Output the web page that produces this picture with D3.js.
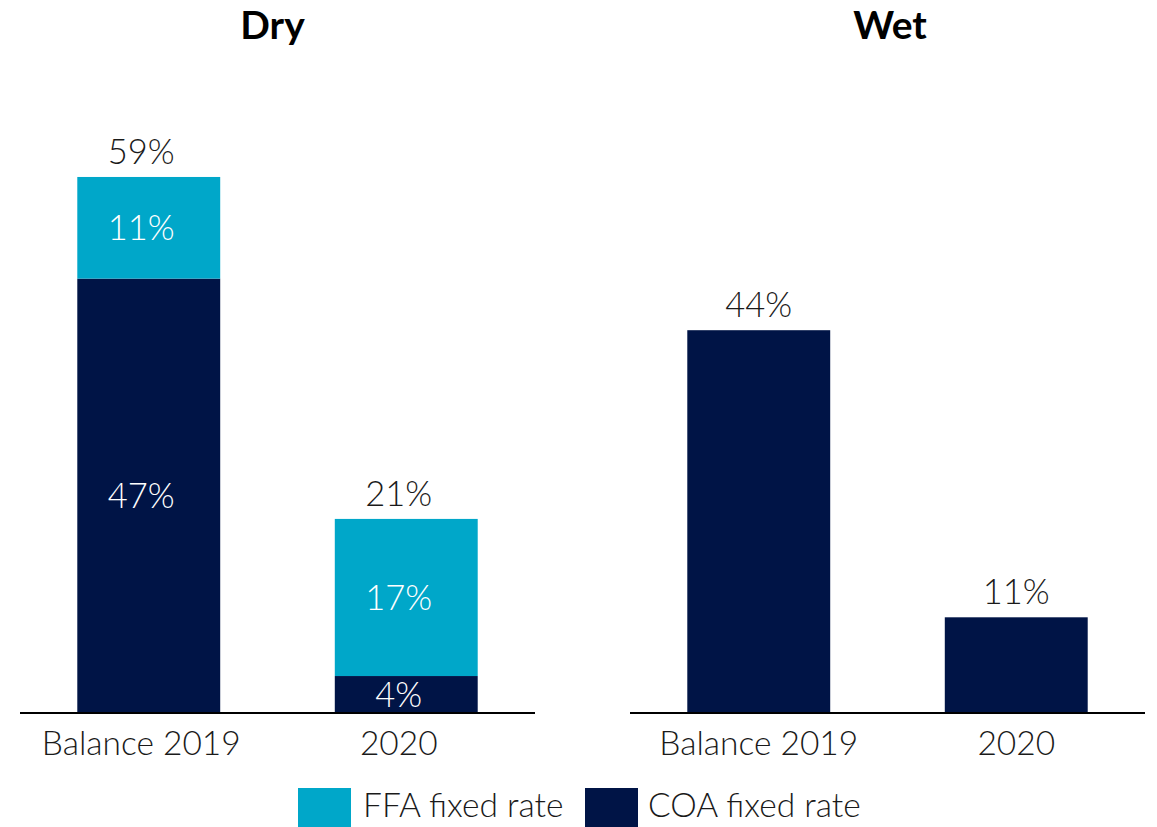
<!DOCTYPE html>
<html>
<head>
<meta charset="utf-8">
<script src="https://cdn.jsdelivr.net/npm/d3@7/dist/d3.min.js"></script>
<style>
  html, body { margin: 0; padding: 0; background: #ffffff; }
  svg { display: block; }
  text { font-family: "Source Sans Pro", "Lato", "Roboto", sans-serif; }
</style>
</head>
<body>
<svg id="chart" width="1157" height="827"></svg>
<script>
// Fixed-rate coverage shares (%) by segment
const categories = ["Balance 2019", "2020"];
const panelTitles = ["Dry", "Wet"];
const seriesNames = ["FFA fixed rate", "COA fixed rate"];

const dryCOA = [47, 4];
const dryFFA = [11, 17];
const dryTotals = [59, 21];

const wetCOA = [44, 11];
const wetFFA = [0, 0];
const wetTotals = [44, 11];

const colorFFA = "#00a7c9";
const colorCOA = "#001446";
const textColor = "#1a1a1a";

const svg = d3.select("#chart");
const baseY = 713;
const labelSize = 34.5;
const tickSize = 33.5;

const panels = [
  { title: panelTitles[0], coa: dryCOA, ffa: dryFFA, totals: dryTotals, x0: 20, x1: 535, yMax: 62, top: 140, textShift: -7.5, titleShift: -5 },
  { title: panelTitles[1], coa: wetCOA, ffa: wetFFA, totals: wetTotals, x0: 630, x1: 1145, yMax: 50, top: 278, textShift: 0, titleShift: 2.5 }
];

panels.forEach(p => {
  const g = svg.append("g");

  const x = d3.scaleBand()
    .domain(categories)
    .range([p.x0, p.x1])
    .paddingInner(0.445)
    .paddingOuter(0.2225);

  const y = d3.scaleLinear()
    .domain([0, p.yMax])
    .range([baseY, p.top]);

  const cx = c => x(c) + x.bandwidth() / 2 + p.textShift;

  // Stack: COA at the bottom, FFA on top
  const rows = categories.map((c, i) => ({ cat: c, COA: p.coa[i], FFA: p.ffa[i], total: p.totals[i] }));
  const stack = d3.stack().keys(["COA", "FFA"])(rows);
  const fills = { COA: colorCOA, FFA: colorFFA };

  stack.forEach(layer => {
    g.append("g").selectAll("rect")
      .data(layer)
      .join("rect")
      .attr("x", d => x(d.data.cat))
      .attr("width", x.bandwidth())
      .attr("y", d => y(d[1]))
      .attr("height", d => y(d[0]) - y(d[1]))
      .attr("fill", fills[layer.key]);

    // Segment labels inside stacked bars (only where both segments exist)
    g.append("g").selectAll("text")
      .data(layer.filter(d => d.data.COA > 0 && d.data.FFA > 0 && d[1] - d[0] > 0))
      .join("text")
      .attr("x", d => cx(d.data.cat))
      .attr("y", d => (y(d[0]) + y(d[1])) / 2)
      .attr("dy", "0.36em")
      .attr("text-anchor", "middle")
      .attr("fill", "#ffffff")
      .attr("font-size", labelSize)
      .attr("font-weight", 300)
      .text(d => (d[1] - d[0]) + "%");
  });

  // Total labels above bars
  g.append("g").selectAll("text")
    .data(rows)
    .join("text")
    .attr("x", d => cx(d.cat))
    .attr("y", d => y(d.COA + d.FFA) - 13)
    .attr("text-anchor", "middle")
    .attr("fill", textColor)
    .attr("font-size", labelSize)
    .attr("font-weight", 300)
    .text(d => d.total + "%");

  // Category axis
  const axis = d3.axisBottom(x).tickSize(0).tickPadding(18);
  const ax = g.append("g")
    .attr("transform", `translate(0,${baseY})`)
    .call(axis);
  ax.select(".domain")
    .attr("d", `M${p.x0},0H${p.x1}`)
    .attr("stroke", "#000")
    .attr("stroke-width", 2);
  ax.selectAll(".tick text")
    .attr("x", p.textShift)
    .attr("font-size", tickSize)
    .attr("font-weight", 300)
    .attr("fill", textColor)
    .attr("dy", "0.71em")
    .style("font-family", "'Source Sans Pro', 'Lato', 'Roboto', sans-serif");

  // Panel title
  g.append("text")
    .attr("x", (p.x0 + p.x1) / 2 + p.titleShift)
    .attr("y", 39)
    .attr("text-anchor", "middle")
    .attr("font-size", 39)
    .attr("font-weight", 700)
    .attr("fill", "#000")
    .text(p.title);
});

// Legend
const legendItems = [
  { name: seriesNames[0], color: colorFFA, x: 298, tx: 363 },
  { name: seriesNames[1], color: colorCOA, x: 585, tx: 648 }
];
const lg = svg.append("g");
lg.selectAll("rect")
  .data(legendItems)
  .join("rect")
  .attr("x", d => d.x)
  .attr("y", 788)
  .attr("width", 53)
  .attr("height", 39)
  .attr("fill", d => d.color);
lg.selectAll("text")
  .data(legendItems)
  .join("text")
  .attr("x", d => d.tx)
  .attr("y", 817)
  .attr("font-size", tickSize)
  .attr("font-weight", 300)
  .attr("fill", textColor)
  .text(d => d.name);
</script>
</body>
</html>
